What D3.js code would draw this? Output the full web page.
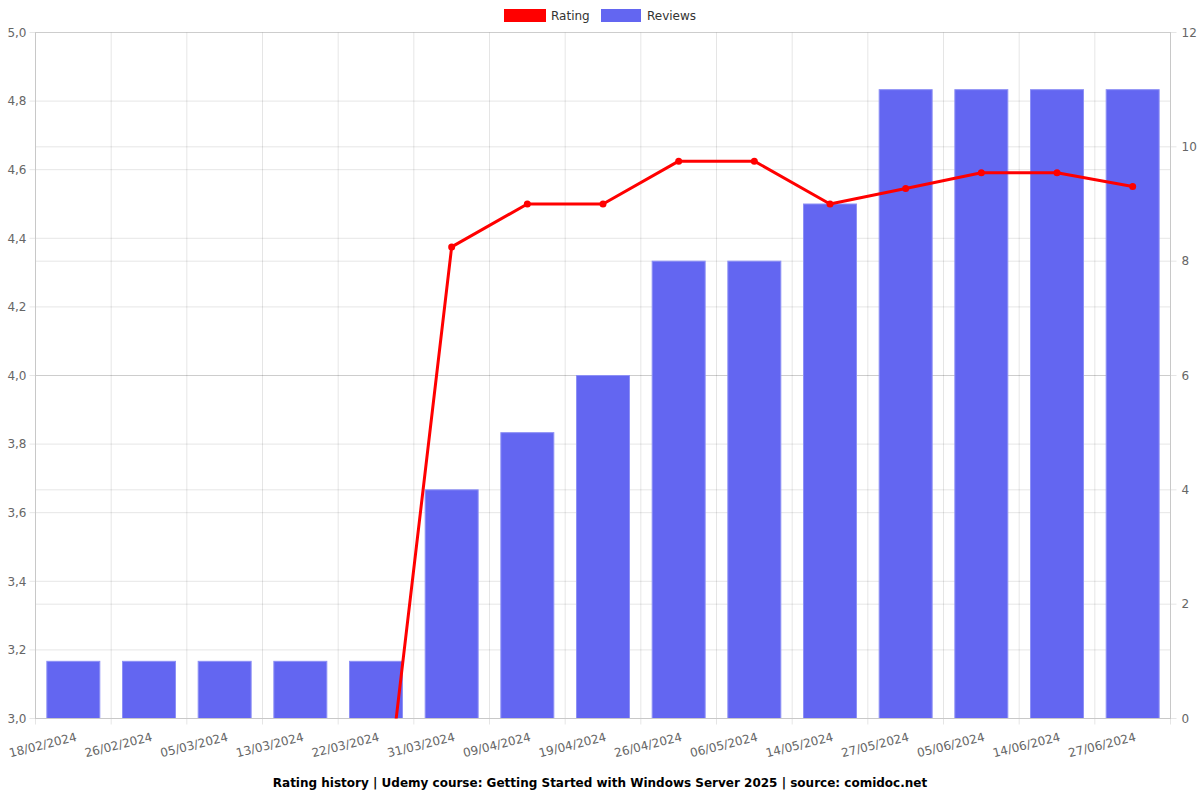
<!DOCTYPE html>
<html><head><meta charset="utf-8">
<script src="https://cdn.jsdelivr.net/npm/d3@7"></script>
<style>body{margin:0;background:#fff}svg{display:block;font-family:"DejaVu Sans",sans-serif}</style>
</head><body>
<svg id="c" width="1200" height="800"></svg>
<script>
const categories = ["18/02/2024","26/02/2024","05/03/2024","13/03/2024","22/03/2024","31/03/2024","09/04/2024","19/04/2024","26/04/2024","06/05/2024","14/05/2024","27/05/2024","05/06/2024","14/06/2024","27/06/2024"];
const ratings = [2.5,2.5,2.5,2.5,2.5,4.375,4.5,4.5,4.625,4.625,4.5,4.545,4.591,4.591,4.551];
const reviews = [1,1,1,1,1,4,5,6,8,8,9,11,11,11,11];
const leftTicks = [3.0,3.2,3.4,3.6,3.8,4.0,4.2,4.4,4.6,4.8,5.0];
const rightTicks = [0,2,4,6,8,10,12];
const title = "Rating history | Udemy course: Getting Started with Windows Server 2025 | source: comidoc.net";

const svg = d3.select("#c");
const L = 35.5, R = 1170.5, T = 32.5, B = 718.5;
const x = d3.scaleBand().domain(categories).range([L, R]).padding(0);
const yL = d3.scaleLinear().domain([3,5]).range([B, T]);
const yR = d3.scaleLinear().domain([0,12]).range([B, T]);
const grid = "rgba(0,0,0,0.1)";
const axisCol = "#c8c8c8";

const edges = categories.map(c => x(c)).concat([R]);
svg.append("g").selectAll("line").data(edges).join("line")
  .attr("x1", d => d).attr("x2", d => d).attr("y1", T).attr("y2", B + 6)
  .attr("stroke", grid);
svg.append("g").selectAll("line").data(leftTicks).join("line")
  .attr("x1", L - 6).attr("x2", R).attr("y1", d => yL(d)).attr("y2", d => yL(d)).attr("stroke", grid);
svg.append("g").selectAll("line").data(rightTicks).join("line")
  .attr("x1", L).attr("x2", R + 6).attr("y1", d => yR(d)).attr("y2", d => yR(d)).attr("stroke", grid);

const bw = x.bandwidth() * 0.7;
svg.append("g").selectAll("rect").data(reviews).join("rect")
  .attr("x", (d,i) => x(categories[i]) + (x.bandwidth() - bw)/2)
  .attr("width", bw)
  .attr("y", d => yR(d)).attr("height", d => yR(0) - yR(d))
  .attr("fill", "#6366f1").attr("stroke", "#8d90f5").attr("stroke-width", 1);

svg.append("line").attr("x1", L).attr("x2", L).attr("y1", T).attr("y2", B).attr("stroke", axisCol);
svg.append("line").attr("x1", R).attr("x2", R).attr("y1", T).attr("y2", B).attr("stroke", axisCol);
svg.append("line").attr("x1", L).attr("x2", R).attr("y1", B).attr("y2", B).attr("stroke", axisCol);

const fmt = d => d.toFixed(1).replace(".", ",");
svg.append("g").selectAll("text").data(leftTicks).join("text")
  .attr("x", L - 9).attr("y", d => yL(d)).attr("dy", "0.35em").attr("text-anchor", "end")
  .attr("font-size", 12).attr("fill", "#666").text(fmt);
svg.append("g").selectAll("text").data(rightTicks).join("text")
  .attr("x", R + 11).attr("y", d => yR(d)).attr("dy", "0.35em").attr("text-anchor", "start")
  .attr("font-size", 12).attr("fill", "#666").text(d => d);
svg.append("g").selectAll("text").data(categories).join("text")
  .attr("transform", d => `translate(${x(d) + x.bandwidth()/2 + 3},${B + 18}) rotate(-14)`)
  .attr("text-anchor", "end").attr("dy", "0.35em")
  .attr("font-size", 12).attr("fill", "#666").text(d => d);

svg.append("clipPath").attr("id", "clp").append("rect")
  .attr("x", L).attr("y", T - 5).attr("width", R - L).attr("height", B - T + 5);
const lineG = svg.append("g").attr("clip-path", "url(#clp)");
const line = d3.line().x((d,i) => x(categories[i]) + x.bandwidth()/2).y(d => yL(d));
lineG.append("path").datum(ratings).attr("d", line).attr("fill", "none")
  .attr("stroke", "#ff0000").attr("stroke-width", 3).attr("stroke-linejoin", "round");
lineG.selectAll("circle").data(ratings).join("circle")
  .attr("cx", (d,i) => x(categories[i]) + x.bandwidth()/2).attr("cy", d => yL(d))
  .attr("r", 3.5).attr("fill", "#ff0000");

const lg = svg.append("g");
lg.append("rect").attr("x", 504).attr("y", 9).attr("width", 42).attr("height", 13).attr("fill", "#ff0000");
lg.append("text").attr("x", 551).attr("y", 16).attr("dy", "0.35em").attr("font-size", 12).attr("fill", "#333").text("Rating");
lg.append("rect").attr("x", 601).attr("y", 9).attr("width", 40).attr("height", 13).attr("fill", "#6366f1");
lg.append("text").attr("x", 647).attr("y", 16).attr("dy", "0.35em").attr("font-size", 12).attr("fill", "#333").text("Reviews");

svg.append("text").attr("x", 600).attr("y", 783).attr("dy", "0.35em").attr("text-anchor", "middle")
  .attr("font-size", 12).attr("font-weight", "bold").attr("fill", "#000").text(title);
</script>
</body></html>
